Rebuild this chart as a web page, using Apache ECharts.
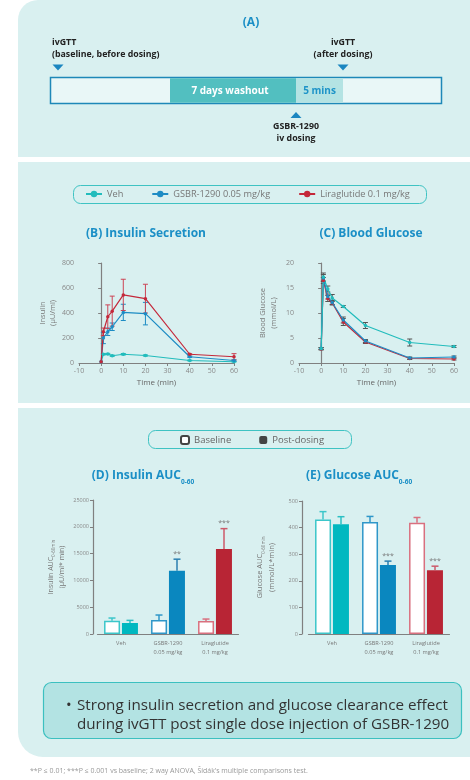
<!DOCTYPE html>
<html><head><meta charset="utf-8">
<script src="https://cdn.jsdelivr.net/npm/echarts@6/dist/echarts.min.js"></script>
<style>html,body{margin:0;padding:0;background:#fff}#c{width:470px;height:780px}</style>
</head><body><div id="c"></div>
<script>
// ---- data ----
const times = [0, 1, 3, 5, 10, 20, 40, 60];
const insVeh = [10, 70, 72, 58, 70, 60, 20, 10];
const insVehErr = [0, 5, 5, 5, 6, 5, 3, 2];
const insGsbr = [10, 200, 250, 290, 405, 395, 50, 20];
const insGsbrErr = [0, 45, 30, 30, 65, 90, 5, 5];
const insLira = [10, 250, 370, 415, 545, 515, 70, 50];
const insLiraErr = [0, 30, 95, 120, 125, 115, 5, 25];

const gluVeh = [2.9, 17.2, 14.8, 13.0, 11.3, 7.5, 4.1, 3.3];
const gluVehErr = [0.2, 0.8, 0.6, 0.7, 0.2, 0.6, 0.7, 0.2];
const gluGsbr = [2.9, 17.0, 13.3, 12.1, 8.6, 4.4, 1.0, 1.2];
const gluGsbrErr = [0.2, 0.7, 0.5, 0.4, 0.6, 0.3, 0.2, 0.2];
const gluLira = [2.8, 16.5, 12.9, 12.0, 8.2, 4.2, 0.9, 0.8];
const gluLiraErr = [0.2, 0.6, 0.6, 0.4, 0.7, 0.3, 0.2, 0.2];

const aucCats = ['Veh', 'GSBR-1290\n0.05 mg/kg', 'Liraglutide\n0.1 mg/kg'];
const insAucBase = [2480, 2600, 2420];
const insAucBaseErr = [500, 940, 370];
const insAucPost = [2050, 11790, 15880];
const insAucPostErr = [490, 2170, 3780];
const insAucSig = ['', '**', '***'];
const gluAucBase = [430, 421, 418];
const gluAucBaseErr = [30, 21, 20];
const gluAucPost = [413, 259, 240];
const gluAucPostErr = [28, 15, 15];
const gluAucSig = ['', '***', '***'];

const xTicks = [-10, 0, 10, 20, 30, 40, 50, 60];

// ---- styles ----
const FONT = 'Open Sans';
const BG = '#d9f0f0';
const BLUE_T = '#1b8fc6';
const cVeh = '#22bcbc', cGsbr = '#1d8cc4', cLira = '#c4283a';
const baseBorder = ['#3cc6ca', '#2f97c9', '#d9707f'];
const postFill = ['#00b8c0', '#0a87bf', '#b82535'];
const postErr = ['#2cc0c4', '#2a7fb0', '#cc5a6a'];

const chart = echarts.init(document.getElementById('c'), null, {renderer: 'canvas'});

function lineErr(name, xi, yi, means, errs, color) {
  return {
    type: 'custom', name: name + '_err', xAxisIndex: xi, yAxisIndex: yi, z: 3,
    data: times.map((t, i) => [t, means[i] - errs[i], means[i] + errs[i]]).filter((d, i) => errs[i] > 0),
    renderItem: function (params, api) {
      const x = api.value(0);
      const p1 = api.coord([x, api.value(1)]), p2 = api.coord([x, api.value(2)]);
      const w = 2.5;
      const st = {stroke: color, lineWidth: 1};
      return {type: 'group', children: [
        {type: 'line', shape: {x1: p1[0], y1: p1[1], x2: p2[0], y2: p2[1]}, style: st},
        {type: 'line', shape: {x1: p1[0] - w, y1: p1[1], x2: p1[0] + w, y2: p1[1]}, style: st},
        {type: 'line', shape: {x1: p2[0] - w, y1: p2[1], x2: p2[0] + w, y2: p2[1]}, style: st}
      ]};
    }
  };
}

function barErr(name, xi, yi, means, errs, colors, offset, sigs) {
  return {
    type: 'custom', name: name + '_err', xAxisIndex: xi, yAxisIndex: yi, z: 3,
    data: means.map((v, i) => [i, v, v + errs[i]]),
    renderItem: function (params, api) {
      const i = params.dataIndex;
      const p1 = api.coord([api.value(0), api.value(1)]);
      const p2 = api.coord([api.value(0), api.value(2)]);
      const x = p1[0] + offset, w = 3.5;
      const st = {stroke: colors[i], lineWidth: 1.5};
      const ch = [
        {type: 'line', shape: {x1: x, y1: p1[1], x2: x, y2: p2[1]}, style: st},
        {type: 'line', shape: {x1: x - w, y1: p2[1], x2: x + w, y2: p2[1]}, style: st}
      ];
      if (sigs && sigs[i]) {
        ch.push({type: 'text', style: {text: sigs[i], x: x, y: p2[1] - 2, align: 'center', verticalAlign: 'bottom', fill: '#777', font: '7px ' + FONT}});
      }
      return {type: 'group', children: ch};
    }
  };
}

function lineSeries(name, xi, yi, vals, color) {
  return {
    type: 'line', name: name, xAxisIndex: xi, yAxisIndex: yi, z: 4,
    data: times.map((t, i) => [t, vals[i]]),
    symbol: 'circle', symbolSize: 3.5,
    lineStyle: {color: color, width: 1.2}, itemStyle: {color: color}
  };
}

const axisLineStyle = {lineStyle: {color: '#808080', width: 1.2}};
const tickStyle = {show: true, length: 3, lineStyle: {color: '#808080'}};

function valX(gi) {
  return {type: 'value', gridIndex: gi, min: -10, max: 60, interval: 10,
    axisLine: {show: true, onZero: false, ...axisLineStyle}, axisTick: tickStyle, splitLine: {show: false},
    axisLabel: {color: '#888', fontSize: 7, fontFamily: FONT, margin: 4,
      formatter: v => xTicks.includes(v) ? String(v) : ''},
    name: 'Time (min)', nameLocation: 'middle', nameGap: 16,
    nameTextStyle: {color: '#666', fontSize: 8, fontFamily: FONT}};
}

function catX(gi) {
  return {type: 'category', gridIndex: gi, data: aucCats,
    axisLine: {show: true, ...axisLineStyle}, axisTick: {show: false},
    axisLabel: {color: '#777', fontSize: 5.6, fontFamily: FONT, margin: 5, lineHeight: 9, interval: 0}};
}

const baseLegendStyle = {color: '#fff', borderColor: '#444', borderWidth: 1};

const option = {
  backgroundColor: '#ffffff',
  animation: false,
  textStyle: {fontFamily: FONT},
  graphic: [
    // panels
    {type: 'rect', z: -10, shape: {x: 18, y: 0, width: 452, height: 157, r: [20, 0, 0, 0]}, style: {fill: BG}},
    {type: 'rect', z: -10, shape: {x: 18, y: 162, width: 452, height: 241}, style: {fill: BG}},
    {type: 'rect', z: -10, shape: {x: 18, y: 408, width: 452, height: 349, r: [0, 0, 0, 25]}, style: {fill: BG}},
    // (A) timeline
    {type: 'text', z: 1, style: {text: '(A)', x: 251, y: 23, align: 'center', verticalAlign: 'middle', fill: BLUE_T, font: 'bold 12px ' + FONT}},
    {type: 'text', z: 1, style: {text: 'ivGTT\n(baseline, before dosing)', x: 52, y: 48.5, align: 'left', verticalAlign: 'middle', fill: '#222', font: 'bold 8.8px ' + FONT, lineHeight: 11.5}},
    {type: 'text', z: 1, style: {text: 'ivGTT\n(after dosing)', x: 343, y: 48.5, align: 'center', verticalAlign: 'middle', fill: '#222', font: 'bold 8.8px ' + FONT, lineHeight: 11.5}},
    {type: 'polygon', z: 1, shape: {points: [[52.5, 64.5], [63.5, 64.5], [58, 70.5]]}, style: {fill: '#1b86c0'}},
    {type: 'polygon', z: 1, shape: {points: [[337.5, 64.5], [348.5, 64.5], [343, 70.5]]}, style: {fill: '#1b86c0'}},
    {type: 'rect', z: 1, shape: {x: 50.5, y: 77.5, width: 391, height: 26}, style: {fill: '#e9f7f7', stroke: '#1e88b8', lineWidth: 1.5}},
    {type: 'rect', z: 2, shape: {x: 170, y: 78.3, width: 126, height: 24.4}, style: {fill: '#52bfc0'}},
    {type: 'rect', z: 2, shape: {x: 296, y: 78.3, width: 47, height: 24.4}, style: {fill: '#b4e3e3'}},
    {type: 'text', z: 3, style: {text: '7 days washout', x: 230, y: 91, align: 'center', verticalAlign: 'middle', fill: '#fff', font: 'bold 10px ' + FONT}},
    {type: 'text', z: 3, style: {text: '5 mins', x: 319.5, y: 91, align: 'center', verticalAlign: 'middle', fill: '#1e94c8', font: 'bold 10px ' + FONT}},
    {type: 'polygon', z: 1, shape: {points: [[290.5, 118], [301.5, 118], [296, 112]]}, style: {fill: '#1b86c0'}},
    {type: 'text', z: 1, style: {text: 'GSBR-1290\niv dosing', x: 296, y: 132.5, align: 'center', verticalAlign: 'middle', fill: '#222', font: 'bold 8.8px ' + FONT, lineHeight: 11.5}},
    // legend boxes
    {type: 'rect', z: 0, shape: {x: 73.5, y: 185.5, width: 353, height: 18, r: 7}, style: {fill: 'none', stroke: '#3fc3c3', lineWidth: 1}},
    {type: 'rect', z: 0, shape: {x: 148.5, y: 430.5, width: 203, height: 18, r: 7}, style: {fill: 'none', stroke: '#3fc3c3', lineWidth: 1}},
    // titles
    {type: 'text', z: 1, style: {text: '(B) Insulin Secretion', x: 146, y: 234, align: 'center', verticalAlign: 'middle', fill: BLUE_T, font: 'bold 12px ' + FONT}},
    {type: 'text', z: 1, style: {text: '(C) Blood Glucose', x: 371, y: 234, align: 'center', verticalAlign: 'middle', fill: BLUE_T, font: 'bold 12px ' + FONT}},
    {type: 'text', z: 1, style: {text: '{a|(D) Insulin AUC}{s|0-60}', x: 143, y: 478, align: 'center', verticalAlign: 'middle',
      rich: {a: {fontSize: 12, fontWeight: 'bold', fill: BLUE_T, fontFamily: FONT, verticalAlign: 'bottom', padding: [0, 0, 4, 0]},
             s: {fontSize: 6.5, fontWeight: 'bold', fill: BLUE_T, fontFamily: FONT, verticalAlign: 'bottom'}}}},
    {type: 'text', z: 1, style: {text: '{a|(E) Glucose AUC}{s|0-60}', x: 359, y: 478, align: 'center', verticalAlign: 'middle',
      rich: {a: {fontSize: 12, fontWeight: 'bold', fill: BLUE_T, fontFamily: FONT, verticalAlign: 'bottom', padding: [0, 0, 4, 0]},
             s: {fontSize: 6.5, fontWeight: 'bold', fill: BLUE_T, fontFamily: FONT, verticalAlign: 'bottom'}}}},
    // key message box
    {type: 'rect', z: 0, shape: {x: 43.5, y: 682.5, width: 418, height: 56, r: 8}, style: {fill: '#b3e3e3', stroke: '#3cc0c0', lineWidth: 1.2}},
    {type: 'text', z: 1, style: {text: '•', x: 66, y: 706, align: 'left', verticalAlign: 'middle', fill: '#333', font: '15px ' + FONT}},
    {type: 'text', z: 1, style: {text: 'Strong insulin secretion and glucose clearance effect\nduring ivGTT post single dose injection of GSBR-1290', x: 77, y: 715, align: 'left', verticalAlign: 'middle', fill: '#333', font: '15.2px ' + FONT, lineHeight: 18.5}},
    // footnote
    {type: 'text', z: 1, style: {text: '**P \u2264 0.01; ***P \u2264 0.001 vs baseline; 2 way ANOVA, \u0160\u00edd\u00e1k\u2019s multiple comparisons test.', x: 30, y: 771, align: 'left', verticalAlign: 'middle', fill: '#999', font: '7px ' + FONT}}
  ],
  legend: [
    {data: ['Veh', 'GSBR-1290 0.05 mg/kg', 'Liraglutide 0.1 mg/kg'], left: 85, top: 189.5, itemWidth: 16, itemHeight: 8, itemGap: 28,
      textStyle: {color: '#777', fontSize: 9.2, fontFamily: FONT}, padding: 0},
    {data: ['Baseline', 'Post-dosing'], left: 180, top: 435, itemWidth: 8, itemHeight: 8, itemGap: 28,
      textStyle: {color: '#666', fontSize: 9.5, fontFamily: FONT}, padding: 0}
  ],
  grid: [
    {left: 79, right: 236, top: 263, bottom: 417},
    {left: 299, right: 16, top: 263, bottom: 417},
    {left: 97.5, right: 231.5, top: 500, bottom: 146},
    {left: 308.5, right: 20.5, top: 501, bottom: 146}
  ],
  xAxis: [valX(0), valX(1), catX(2), catX(3)],
  yAxis: [
    {type: 'value', gridIndex: 0, min: 0, max: 800, interval: 200,
      axisLine: {show: true, ...axisLineStyle}, axisTick: tickStyle, splitLine: {show: false},
      axisLabel: {color: '#888', fontSize: 7, fontFamily: FONT, margin: 5},
      name: 'Insulin\n(\u03bcU/ml)', nameLocation: 'middle', nameRotate: 90, nameGap: 20,
      nameTextStyle: {color: '#777', fontSize: 7.5, fontFamily: FONT, lineHeight: 10}},
    {type: 'value', gridIndex: 1, min: 0, max: 20, interval: 5,
      axisLine: {show: true, ...axisLineStyle}, axisTick: tickStyle, splitLine: {show: false},
      axisLabel: {color: '#888', fontSize: 7, fontFamily: FONT, margin: 5},
      name: 'Blood Glucose\n(mmol/L)', nameLocation: 'middle', nameRotate: 90, nameGap: 20,
      nameTextStyle: {color: '#777', fontSize: 7.5, fontFamily: FONT, lineHeight: 11}},
    {type: 'value', gridIndex: 2, min: 0, max: 25000, interval: 5000, offset: 4.5,
      axisLine: {show: true, ...axisLineStyle}, axisTick: tickStyle, splitLine: {show: false},
      axisLabel: {color: '#888', fontSize: 5.5, fontFamily: FONT, margin: 4, formatter: v => String(v)},
      name: '{t|Insulin AUC}{s|0-60min}\n{t|(\u03bcU/ml* min)}', nameLocation: 'middle', nameRotate: 90, nameGap: 26,
      nameTextStyle: {color: '#777', fontSize: 7, fontFamily: FONT, lineHeight: 11,
        rich: {t: {fontSize: 7, color: '#777', fontFamily: FONT}, s: {fontSize: 4.5, color: '#777', fontFamily: FONT, verticalAlign: 'bottom'}}}},
    {type: 'value', gridIndex: 3, min: 0, max: 500, interval: 100, offset: 6.5,
      axisLine: {show: true, ...axisLineStyle}, axisTick: tickStyle, splitLine: {show: false},
      axisLabel: {color: '#888', fontSize: 5.5, fontFamily: FONT, margin: 4, formatter: v => String(v)},
      name: '{t|Glucose AUC}{s|0-60min}\n{t|(mmol/L*min)}', nameLocation: 'middle', nameRotate: 90, nameGap: 24,
      nameTextStyle: {color: '#777', fontSize: 7.5, fontFamily: FONT, lineHeight: 12,
        rich: {t: {fontSize: 7.5, color: '#777', fontFamily: FONT}, s: {fontSize: 4.5, color: '#777', fontFamily: FONT, verticalAlign: 'bottom'}}}}
  ],
  series: [
    lineErr('Veh', 0, 0, insVeh, insVehErr, cVeh),
    lineErr('GSBR', 0, 0, insGsbr, insGsbrErr, cGsbr),
    lineErr('Lira', 0, 0, insLira, insLiraErr, '#cc4455'),
    lineSeries('Veh', 0, 0, insVeh, cVeh),
    lineSeries('GSBR-1290 0.05 mg/kg', 0, 0, insGsbr, cGsbr),
    lineSeries('Liraglutide 0.1 mg/kg', 0, 0, insLira, cLira),
    lineSeries('Liraglutide 0.1 mg/kg', 1, 1, gluLira, cLira),
    lineSeries('GSBR-1290 0.05 mg/kg', 1, 1, gluGsbr, cGsbr),
    lineSeries('Veh', 1, 1, gluVeh, cVeh),
    lineErr('gVeh', 1, 1, gluVeh, gluVehErr, '#555'),
    lineErr('gGsbr', 1, 1, gluGsbr, gluGsbrErr, '#555'),
    lineErr('gLira', 1, 1, gluLira, gluLiraErr, '#555'),
    // AUC insulin
    {type: 'bar', name: 'Baseline', xAxisIndex: 2, yAxisIndex: 2, barWidth: 16, barGap: '12%', itemStyle: baseLegendStyle,
      data: insAucBase.map((v, i) => ({value: v, itemStyle: {color: '#fff', borderColor: baseBorder[i], borderWidth: 1.5}}))},
    {type: 'bar', name: 'Post-dosing', xAxisIndex: 2, yAxisIndex: 2, barWidth: 16, barGap: '12%', itemStyle: {color: '#444'},
      data: insAucPost.map((v, i) => ({value: v, itemStyle: {color: postFill[i]}}))},
    barErr('iab', 2, 2, insAucBase, insAucBaseErr, baseBorder, -9, null),
    barErr('iap', 2, 2, insAucPost, insAucPostErr, postErr, 9, insAucSig),
    // AUC glucose
    {type: 'bar', name: 'Baseline', xAxisIndex: 3, yAxisIndex: 3, barWidth: 16, barGap: '12%', itemStyle: baseLegendStyle,
      data: gluAucBase.map((v, i) => ({value: v, itemStyle: {color: '#fff', borderColor: baseBorder[i], borderWidth: 1.5}}))},
    {type: 'bar', name: 'Post-dosing', xAxisIndex: 3, yAxisIndex: 3, barWidth: 16, barGap: '12%', itemStyle: {color: '#444'},
      data: gluAucPost.map((v, i) => ({value: v, itemStyle: {color: postFill[i]}}))},
    barErr('gab', 3, 3, gluAucBase, gluAucBaseErr, baseBorder, -9, null),
    barErr('gap', 3, 3, gluAucPost, gluAucPostErr, postErr, 9, gluAucSig)
  ]
};
chart.setOption(option);
</script>
</body></html>
